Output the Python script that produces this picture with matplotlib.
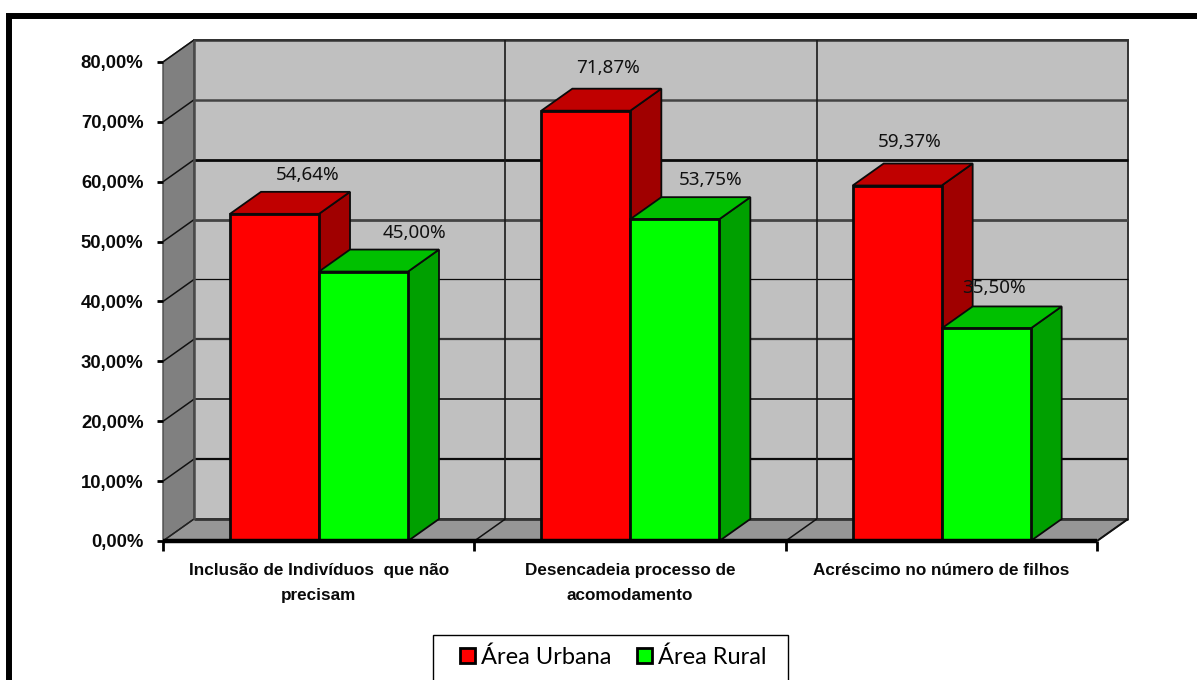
import matplotlib
matplotlib.use("Agg")
import matplotlib.pyplot as plt
from matplotlib.patches import Polygon, Rectangle

categories = ["Inclusão de Indivíduos  que não\nprecisam",
              "Desencadeia processo de\nacomodamento",
              "Acréscimo no número de filhos"]
series_names = ["Área Urbana", "Área Rural"]
urbana = [54.64, 71.87, 59.37]
rural = [45.00, 53.75, 35.50]
y_ticks = [0, 10, 20, 30, 40, 50, 60, 70, 80]
grid_widths = {10: 1.6, 20: 1.3, 30: 1.6, 40: 0.9, 50: 2.0, 60: 2.0, 70: 1.8, 80: 1.8}
grid_colors = {10: "#0A0A0A", 20: "#222222", 30: "#333333", 40: "#0A0A0A",
               50: "#444444", 60: "#0A0A0A", 70: "#444444", 80: "#333333"}

W, H = 1197, 680
FACE = {"Área Urbana": ("#FF0000", "#C00000", "#A00000"),
        "Área Rural": ("#00FF00", "#00C000", "#00A000")}
# hand-placed label offsets (points) from each bar's top-centre
label_shift = {"Área Urbana": [(24, 28), (16, 31), (9, 31)],
               "Área Rural": [(37, 28), (26, 28), (5.5, 29)]}

fig = plt.figure(figsize=(W / 100, H / 100), dpi=100, facecolor="white")
ax = fig.add_axes([163 / W, 1 - 541 / H, 934 / W, 479 / H])
ax.set_xlim(0, 3)
ax.set_ylim(0, 80)
ax.patch.set_visible(False)
for s in ax.spines.values():
    s.set_visible(False)

# depth of the pseudo-3D box, in data units
DX = 31 / (934 / 3)
DY = 22 / (479 / 80)
BAR_W = 89 / (934 / 3)
BAR_START = 67 / (934 / 3)


def poly(pts, fc, ec="#111111", lw=1.0, z=1):
    ax.add_patch(Polygon(pts, closed=True, facecolor=fc, edgecolor=ec, linewidth=lw,
                         joinstyle="miter", clip_on=False, zorder=z))


def line(xs, ys, lw=1.2, c="#111111", z=2):
    ax.plot(xs, ys, color=c, lw=lw, clip_on=False, zorder=z, solid_capstyle="butt")


# walls and floor
poly([(DX, DY), (3 + DX, DY), (3 + DX, 80 + DY), (DX, 80 + DY)], "#C0C0C0", "#333333", 1.4)
poly([(0, 0), (DX, DY), (DX, 80 + DY), (0, 80)], "#808080", "#4A4A4A", 1.0)
poly([(0, 0), (3, 0), (3 + DX, DY), (DX, DY)], "#969696", "#333333", 1.0)

# gridlines run along the side wall and the back wall
for v in y_ticks[1:]:
    line([0, DX], [v, v + DY], lw=1.1, c="#111111")
    line([DX, 3 + DX], [v + DY, v + DY], lw=grid_widths[v], c=grid_colors[v])
line([DX, 3 + DX], [DY, DY], lw=2.0, c="#333333")
for k in (1, 2):
    line([k + DX, k + DX], [DY, 80 + DY], lw=1.2, c="#1A1A1A")
    line([k, k + DX], [0, DY], lw=1.1)
line([0, DX], [0, DY], lw=1.0, c="#222222")
line([3, 3 + DX], [0, DY], lw=1.4)
line([DX, DX], [DY, 80 + DY], lw=1.8, c="#4A4A4A")

# clustered bars, drawn left to right so each one overlaps its neighbour's side
z = 5
for i in range(len(categories)):
    for j, (name, vals) in enumerate(zip(series_names, (urbana, rural))):
        v = vals[i]
        x0 = i + BAR_START + j * BAR_W
        x1 = x0 + BAR_W
        front, top, side = FACE[name]
        poly([(x1, 0), (x1 + DX, DY), (x1 + DX, v + DY), (x1, v)], side, "#0A0A0A", 1.3, z)
        poly([(x0, v), (x1, v), (x1 + DX, v + DY), (x0 + DX, v + DY)], top, "#0A0A0A", 1.3, z)
        poly([(x0, 0), (x1, 0), (x1, v), (x0, v)], front, "#0A0A0A", 2.0, z)
        z += 1

# value labels above the bars
for i in range(len(categories)):
    for j, (name, vals) in enumerate(zip(series_names, (urbana, rural))):
        v = vals[i]
        cx = i + BAR_START + (j + 0.5) * BAR_W
        ax.annotate(f"{v:.2f}%".replace(".", ","), xy=(cx, v), xytext=label_shift[name][i],
                    textcoords="offset points", ha="center", va="center",
                    fontsize=13.6, family="Noto Sans", color="#111111", zorder=30,
                    annotation_clip=False)

# axes: value ticks, category ticks and wrapped category names
ax.set_yticks(y_ticks)
ax.set_yticklabels([f"{t},00%" for t in y_ticks], fontsize=13.3, fontweight="bold",
                   family="Liberation Sans", color="#0A0A0A")
ax.tick_params(axis="y", length=4, width=2, pad=10, color="black")
ax.set_xticks([0, 1, 2, 3])
ax.set_xticklabels([])
ax.tick_params(axis="x", which="major", length=7, width=2, color="black")
ax.set_xticks([0.5, 1.5, 2.5], minor=True)
ax.set_xticklabels(categories, minor=True, fontsize=12.3, fontweight="bold",
                   family="Liberation Sans", color="#0A0A0A", linespacing=1.8)
ax.tick_params(axis="x", which="minor", length=0, pad=16)
line([0, 3], [0, 0], lw=3.2, c="black", z=20)

# page frame, running off the right and bottom edges
fig.add_artist(Rectangle((8.5 / W, -0.1), 1.2, 1.1 - 16 / H, transform=fig.transFigure,
                         facecolor="none", edgecolor="black", linewidth=4.3))

# legend box, cut by the bottom edge
fig.add_artist(Rectangle((433 / W, -0.05), 355 / W, 0.05 + 45 / H, transform=fig.transFigure,
                         facecolor="white", edgecolor="black", linewidth=1.0))
handles = [Rectangle((0, 0), 1, 1, facecolor=FACE[n][0], edgecolor="black", linewidth=2.0)
           for n in series_names]
fig.legend(handles, series_names, ncol=2, frameon=False, loc="center",
           bbox_to_anchor=(613.5 / W, 1 - 657 / H), prop={"family": "Lato", "size": 17},
           handlelength=0.63, handleheight=0.63, handletextpad=0.25, columnspacing=1.1,
           borderpad=0)

fig.savefig("out.png", dpi=100, facecolor="white")
